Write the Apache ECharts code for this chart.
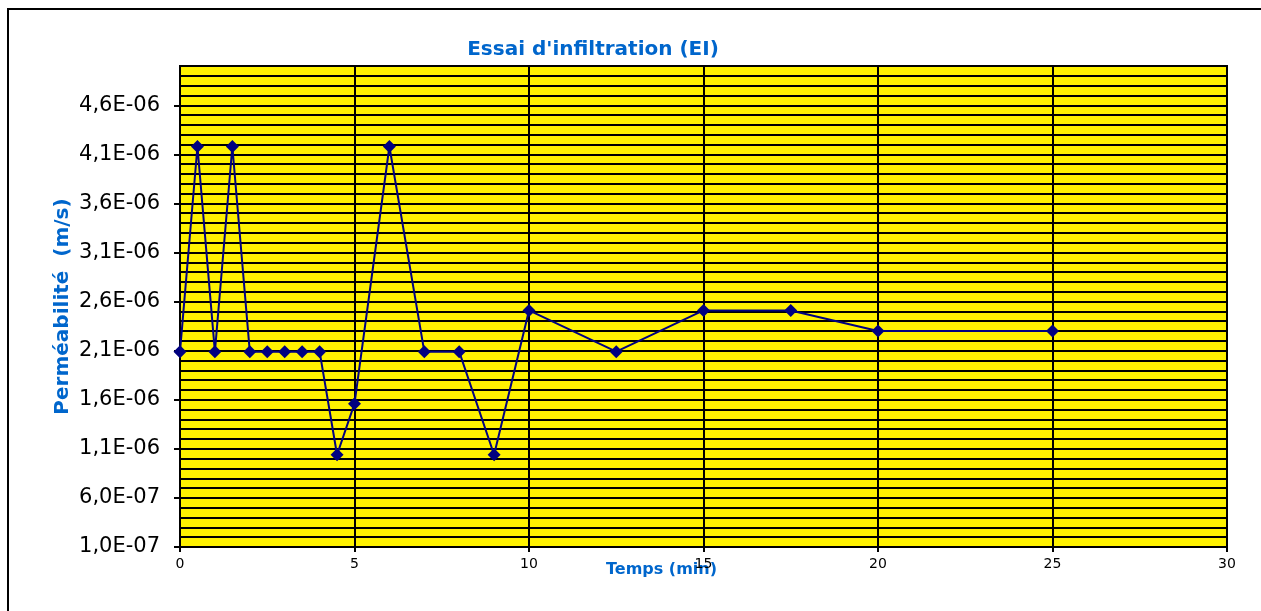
<!DOCTYPE html>
<html>
<head>
  <meta charset="utf-8">
  <title>Essai d'infiltration</title>
  <script src="https://cdn.jsdelivr.net/npm/echarts@6/dist/echarts.min.js"></script>
  <style>
    body { margin: 0; padding: 0; background: #fff; }
    #main { width: 1261px; height: 611px; }
  </style>
</head>
<body>
<div id="main"></div>
<script>
  // temps (min)
  var temps = [0, 0.5, 1, 1.5, 2, 2.5, 3, 3.5, 4, 4.5, 5, 6, 7, 8, 9, 10, 12.5, 15, 17.5, 20, 25];
  // perméabilité (m/s)
  var permeabilite = [2.09e-6, 4.18e-6, 2.09e-6, 4.18e-6, 2.09e-6, 2.09e-6, 2.09e-6, 2.09e-6, 2.09e-6, 1.04e-6,
    1.56e-6, 4.18e-6, 2.09e-6, 2.09e-6, 1.04e-6, 2.51e-6, 2.09e-6, 2.51e-6, 2.51e-6, 2.30e-6, 2.30e-6];
  var yMin = 1e-7, yMax = 5e-6, yStep = 5e-7, yMinorStep = 1e-7;
  var xMin = 0, xMax = 30, xStep = 5;

  // format "4,6E-06" comme Excel
  function sci(v) {
    var p = v.toExponential(1).split('e');
    var e = parseInt(p[1], 10);
    var a = Math.abs(e);
    return p[0].replace('.', ',') + 'E' + (e < 0 ? '-' : '+') + (a < 10 ? '0' : '') + a;
  }

  var points = temps.map(function (t, i) { return [t, permeabilite[i]]; });

  var myChart = echarts.init(document.getElementById('main'));
  var option = {
    backgroundColor: '#fff',
    animation: false,
    title: {
      text: "Essai d'infiltration (EI)",
      left: 588,
      top: 35,
      textAlign: 'center',
      textStyle: { fontFamily: 'DejaVu Sans', fontSize: 20, fontWeight: 'bold', color: '#0066cc' }
    },
    graphic: [{
      type: 'rect',
      shape: { x: 8, y: 9, width: 1300, height: 700 },
      style: { fill: 'none', stroke: '#000', lineWidth: 2 },
      silent: true
    }],
    grid: {
      left: 180, right: 34, top: 66, bottom: 64,
      show: true,
      backgroundColor: '#fff200',
      borderColor: '#000',
      borderWidth: 2
    },
    xAxis: {
      type: 'value',
      min: xMin, max: xMax, interval: xStep,
      name: 'Temps (min)',
      nameLocation: 'middle',
      nameGap: 15,
      nameMoveOverlap: false,
      nameTextStyle: { fontFamily: 'DejaVu Sans', fontSize: 16, fontWeight: 'bold', color: '#0066cc', padding: [0, 0, 0, -84] },
      axisLine: { lineStyle: { color: '#000', width: 2 } },
      axisTick: { inside: false, length: 5, lineStyle: { color: '#000', width: 2 } },
      axisLabel: { fontFamily: 'DejaVu Sans', fontSize: 14, color: '#000', margin: 10 },
      splitLine: { show: true, lineStyle: { color: '#000', width: 2 } }
    },
    yAxis: [{
      type: 'value',
      min: yMin, max: yMax, interval: yStep,
      name: 'Perméabilité  (m/s)',
      nameLocation: 'middle',
      nameGap: 107,
      nameMoveOverlap: false,
      nameTextStyle: { fontFamily: 'DejaVu Sans', fontSize: 20, fontWeight: 'bold', color: '#0066cc' },
      axisLine: { show: true, lineStyle: { color: '#000', width: 2 } },
      axisTick: { show: true, inside: false, length: 6, lineStyle: { color: '#000', width: 2 } },
      axisLabel: { fontFamily: 'DejaVu Sans', fontSize: 21, color: '#000', margin: 20, showMaxLabel: false, formatter: sci },
      splitLine: { show: false }
    }, {
      // lignes horizontales secondaires
      type: 'value',
      min: yMin, max: yMax, interval: yMinorStep,
      position: 'left',
      axisLine: { show: false },
      axisTick: { show: false },
      axisLabel: { show: false },
      splitLine: { show: true, lineStyle: { color: '#000', width: 2 } }
    }],
    series: [{
      type: 'line',
      yAxisIndex: 0,
      data: points,
      symbol: 'diamond',
      symbolSize: 13,
      lineStyle: { color: '#000080', width: 2 },
      itemStyle: { color: '#000080' },
      z: 5
    }]
  };
  myChart.setOption(option);
</script>
</body>
</html>
